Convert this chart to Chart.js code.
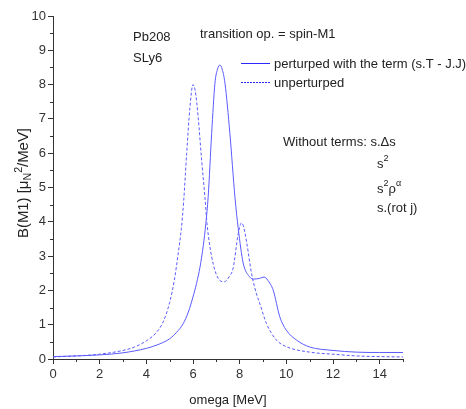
<!DOCTYPE html>
<html>
<head>
<meta charset="utf-8">
<script src="https://cdn.jsdelivr.net/npm/chart.js@4.4.0/dist/chart.umd.min.js"></script>
<style>
  html, body { margin: 0; padding: 0; background: #fff; }
</style>
</head>
<body>
<canvas id="c" width="466" height="409"></canvas>
<script>
// B(M1) strength vs omega, perturbed with (s.T - J.J)
const omegaPert = [0, 1, 2, 3, 4, 4.5, 5, 5.3, 5.58, 5.8, 6, 6.15, 6.3, 6.44, 6.55, 6.65, 6.8, 6.94, 7.05, 7.15,
  7.25, 7.37, 7.58, 7.8, 7.94, 8.15, 8.42, 8.6, 8.85, 9.05, 9.2, 9.44, 9.72, 10, 10.44, 11, 12, 13, 14, 15];
const bm1Pert = [0.07, 0.09, 0.12, 0.18, 0.31, 0.42, 0.59, 0.78, 1.03, 1.37, 1.81, 2.2, 2.68, 3.3, 3.95, 4.73, 6.58, 8.04, 8.45, 8.57,
  8.45, 8.04, 6.58, 4.7, 3.8, 2.8, 2.4, 2.33, 2.35, 2.39, 2.3, 2.0, 1.23, 0.84, 0.55, 0.35, 0.25, 0.2, 0.19, 0.19];

// unperturbed
const omegaUnpert = [0, 1, 2, 3, 3.5, 4, 4.4, 4.72, 5, 5.2, 5.37, 5.5, 5.6, 5.73, 5.87, 6, 6.1, 6.22, 6.37, 6.51,
  6.6, 6.8, 7.08, 7.34, 7.55, 7.72, 7.94, 8.08, 8.17, 8.3, 8.51, 8.72, 8.87, 9.15, 9.58, 10, 11, 12, 13, 14, 15];
const bm1Unpert = [0.06, 0.09, 0.14, 0.25, 0.35, 0.53, 0.75, 1.08, 1.65, 2.3, 3.1, 3.8, 4.6, 6.0, 7.35, 8.0, 7.8, 7.06, 5.8, 4.73,
  3.95, 2.98, 2.35, 2.25, 2.4, 2.65, 3.66, 3.97, 3.85, 3.4, 2.49, 1.9, 1.6, 1.03, 0.55, 0.36, 0.2, 0.14, 0.09, 0.07, 0.06];

const xRange = [0, 15];
const yRange = [0, 10];
const xMinorTicks = [1, 3, 5, 7, 9, 11, 13, 15];
const yMinorTicks = [0.5, 1.5, 2.5, 3.5, 4.5, 5.5, 6.5, 7.5, 8.5, 9.5];

const legendLabels = ['perturped with the term (s.T - J.J)', 'unperturped'];

const FONT = '"Liberation Sans", Arial, sans-serif';
const INK = '#222';
const AXIS = '#333';
const BLUE = '#5a5aff';

const toXY = (xs, ys) => xs.map((x, i) => ({ x: x, y: ys[i] }));

// text with optional superscripts / subscripts: parts = [[text, shift]]
function drawRich(ctx, parts, x, y, size) {
  size = size || 13;
  let cx = x;
  parts.forEach(([t, shift]) => {
    ctx.font = (shift ? Math.round(size * 0.7) : size) + 'px ' + FONT;
    ctx.fillText(t, cx, y + (shift || 0));
    cx += ctx.measureText(t).width;
  });
  return cx - x;
}

function richWidth(ctx, parts, size) {
  let w = 0;
  parts.forEach(([t, shift]) => {
    ctx.font = (shift ? Math.round(size * 0.7) : size) + 'px ' + FONT;
    w += ctx.measureText(t).width;
  });
  return w;
}

const extras = {
  id: 'extras',
  afterDraw(chart) {
    const ctx = chart.ctx;
    const xs = chart.scales.x, ys = chart.scales.y;
    const left = chart.chartArea.left, bottom = chart.chartArea.bottom;
    ctx.save();

    // minor ticks
    ctx.strokeStyle = AXIS;
    ctx.lineWidth = 1;
    ctx.beginPath();
    yMinorTicks.forEach(v => {
      const py = Math.round(ys.getPixelForValue(v)) + 0.5;
      ctx.moveTo(left - 3, py); ctx.lineTo(left, py);
    });
    xMinorTicks.forEach(v => {
      const px = Math.round(xs.getPixelForValue(v)) + 0.5;
      ctx.moveTo(px, bottom); ctx.lineTo(px, bottom + 3);
    });
    ctx.stroke();

    // annotations
    ctx.fillStyle = INK;
    ctx.textBaseline = 'alphabetic';
    ctx.font = '13px ' + FONT;
    ctx.fillText('Pb208', 133, 41);
    ctx.fillText('SLy6', 133, 62);
    ctx.fillText('transition op. = spin-M1', 200, 38);
    ctx.fillText('Without terms: s.\u0394s', 283, 146);
    drawRich(ctx, [['s'], ['2', -7]], 377, 168);
    drawRich(ctx, [['s'], ['2', -7], ['\u03c1'], ['\u03b1', -7]], 377, 193);
    drawRich(ctx, [['s.(rot j)']], 377, 212);

    // legend
    ctx.strokeStyle = '#2a2aff';
    ctx.lineWidth = 1;
    ctx.beginPath();
    ctx.moveTo(241, 63.5); ctx.lineTo(270, 63.5);
    ctx.stroke();
    ctx.setLineDash([2, 1]);
    ctx.beginPath();
    ctx.moveTo(241, 82.5); ctx.lineTo(270, 82.5);
    ctx.stroke();
    ctx.setLineDash([]);
    ctx.font = '13px ' + FONT;
    ctx.fillText(legendLabels[0], 274, 68);
    ctx.fillText(legendLabels[1], 274, 87);

    // y axis title with mu_N^2, condensed to fit beside the ticks
    const parts = [['B(M1) [\u03bc'], ['N', 3], ['2', -6], ['/MeV]']];
    const w = richWidth(ctx, parts, 14);
    const k = 110 / w;
    ctx.translate(23, 183);
    ctx.rotate(-Math.PI / 2);
    ctx.scale(k, 1);
    drawRich(ctx, parts, -w / 2, 5, 14);

    ctx.restore();
  }
};

new Chart(document.getElementById('c'), {
  type: 'scatter',
  data: {
    datasets: [
      {
        label: legendLabels[0],
        data: toXY(omegaPert, bm1Pert),
        showLine: true,
        borderColor: BLUE,
        borderWidth: 1,
        pointRadius: 0,
        cubicInterpolationMode: 'monotone'
      },
      {
        label: legendLabels[1],
        data: toXY(omegaUnpert, bm1Unpert),
        showLine: true,
        borderColor: BLUE,
        borderWidth: 1,
        borderDash: [3, 2],
        pointRadius: 0,
        cubicInterpolationMode: 'monotone'
      }
    ]
  },
  options: {
    responsive: false,
    animation: false,
    layout: { padding: { left: 0, top: 16, right: 63, bottom: 0 } },
    plugins: {
      legend: { display: false },
      tooltip: { enabled: false }
    },
    scales: {
      x: {
        type: 'linear',
        min: xRange[0], max: xRange[1],
        afterFit: s => { s.height = 50; },
        border: { color: AXIS, width: 1 },
        grid: { drawOnChartArea: false, tickLength: 5, tickColor: AXIS },
        ticks: { stepSize: 2, includeBounds: false, padding: 3, color: '#333',
          font: { family: FONT, size: 13 }, maxRotation: 0 },
        title: { display: true, text: 'omega [MeV]', color: INK,
          font: { family: FONT, size: 13 }, padding: { top: 0, bottom: 1 } }
      },
      y: {
        type: 'linear',
        min: yRange[0], max: yRange[1],
        afterFit: s => { s.width = 53; },
        border: { color: AXIS, width: 1 },
        grid: { drawOnChartArea: false, tickLength: 5, tickColor: AXIS },
        ticks: { stepSize: 1, padding: 2, color: '#333', font: { family: FONT, size: 13 } }
      }
    }
  },
  plugins: [extras]
});
</script>
</body>
</html>
